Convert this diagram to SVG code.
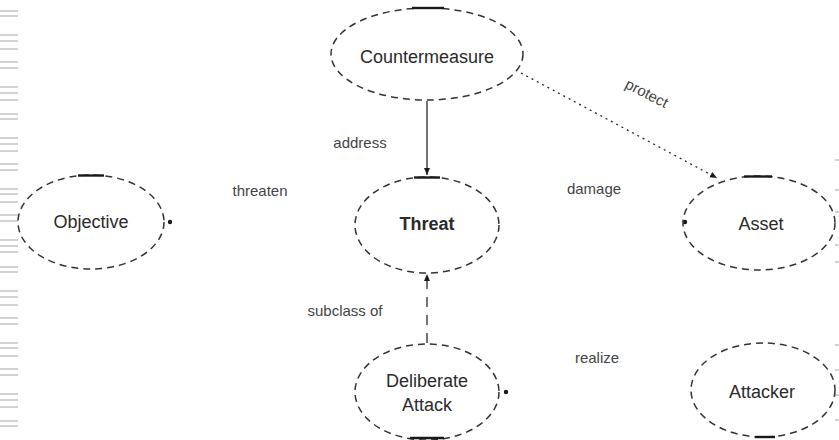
<svg xmlns="http://www.w3.org/2000/svg" width="839" height="440" viewBox="0 0 839 440">
<style>
.node ellipse{fill:none;stroke:#333;stroke-width:1.5;stroke-dasharray:7 5}
.seg{stroke:#1a1a1a;stroke-width:2.4;fill:none}
.nt{font-family:"Liberation Sans",Arial,sans-serif;font-size:18px;fill:#2a2a2a;text-anchor:middle;dominant-baseline:central}
.lbl{font-family:"Liberation Sans",Arial,sans-serif;font-size:15px;fill:#444;text-anchor:middle;dominant-baseline:central}
.edge{stroke:#2a2a2a;stroke-width:1.3;fill:none}
.tip{fill:#1a1a1a}
.rule{stroke:#d2d2d2;stroke-width:2}
</style>
<defs>
<marker id="arr" markerWidth="8" markerHeight="8" refX="7" refY="4" orient="auto" markerUnits="userSpaceOnUse">
<path d="M0,1 L7,4 L0,7 Z" fill="#1a1a1a"/>
</marker>
</defs>
<rect width="839" height="440" fill="#ffffff"/>
<g id="edge-rules">
<path class="rule" d="M0,11H18M0,16H18M0,35H18M0,41H18M0,49H18M0,62H18M0,68H18M0,87H18M0,93H18M0,100H18M0,114H18M0,119H18M0,138H18M0,144H18M0,151H18M0,164H18M0,170H18M0,189H18M0,194H18M0,202H18M0,215H18M0,221H18M0,240H18M0,246H18M0,252H18M0,267H18M0,272H18M0,291H18M0,297H18M0,305H18M0,318H18M0,324H18M0,343H18M0,348H18M0,356H18M0,369H18M0,375H18M0,394H18M0,400H18M0,407H18M0,421H18M0,426H18"/>
<path class="rule" d="M835,160H839M835,190H839M835,212H839M835,245H839M835,262H839M835,345H839M835,370H839M835,395H839M835,420H839"/>
</g>
<g id="connectors">
<line class="edge" x1="427" y1="101" x2="427" y2="175" marker-end="url(#arr)"/>
<line class="edge" x1="521" y1="73" x2="717" y2="178" stroke-dasharray="2 4" marker-end="url(#arr)"/>
<line class="edge" x1="427" y1="343" x2="427" y2="274" stroke-dasharray="10 8" marker-end="url(#arr)"/>
<circle class="tip" cx="170" cy="222" r="2.2"/>
<circle class="tip" cx="685" cy="222" r="2.2"/>
<circle class="tip" cx="506" cy="392" r="2.2"/>
<text class="lbl" x="360" y="142">address</text>
<text class="lbl" x="647" y="93" transform="rotate(27 647 93)">protect</text>
<text class="lbl" x="260" y="190">threaten</text>
<text class="lbl" x="594" y="188">damage</text>
<text class="lbl" x="345" y="310">subclass of</text>
<text class="lbl" x="597" y="357">realize</text>
</g>
<g id="countermeasure" class="node">
<ellipse cx="427" cy="54" rx="96" ry="46"/>
<path class="seg" d="M412,8H444"/>
<text class="nt" x="427" y="57">Countermeasure</text>
</g>
<g id="objective" class="node">
<ellipse cx="91" cy="222" rx="73" ry="47"/>
<path class="seg" d="M78,175.5H104" stroke-width="1.8"/>
<text class="nt" x="91" y="222">Objective</text>
</g>
<g id="threat" class="node">
<ellipse cx="427" cy="225" rx="72" ry="48"/>
<path class="seg" d="M414,177.5H440" stroke-width="1.8"/>
<text class="nt" x="427" y="224" font-weight="bold">Threat</text>
</g>
<g id="asset" class="node">
<ellipse cx="759" cy="223" rx="76" ry="47"/>
<path class="seg" d="M744,176.5H772" stroke-width="1.8"/>
<text class="nt" x="761" y="224">Asset</text>
</g>
<g id="deliberate-attack" class="node">
<ellipse cx="427" cy="392" rx="72" ry="48"/>
<path class="seg" d="M410,438H444" stroke-width="3"/>
<text class="nt" x="427" y="381">Deliberate</text>
<text class="nt" x="427" y="405">Attack</text>
</g>
<g id="attacker" class="node">
<ellipse cx="763" cy="390" rx="72" ry="47"/>
<path class="seg" d="M755,437H775" stroke-width="3"/>
<text class="nt" x="762" y="392">Attacker</text>
</g>
</svg>
